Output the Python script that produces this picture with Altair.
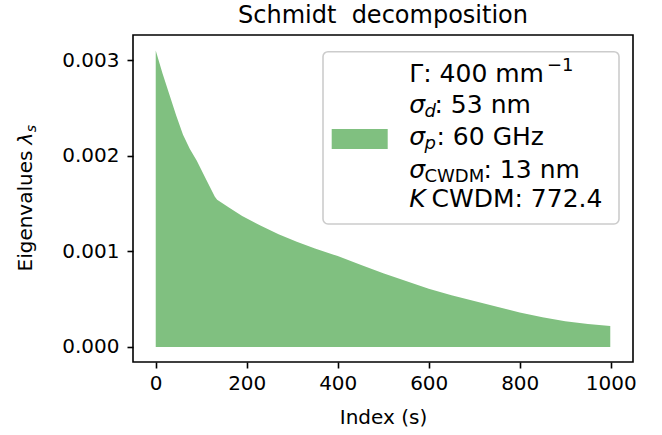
import altair as alt
import pandas as pd

# ---- data ----
index_s = [0, 15, 30, 45, 60, 75, 90, 110, 130, 135, 160, 190, 230, 270, 310, 350,
           400, 450, 500, 550, 600, 650, 700, 750, 800, 850, 900, 950, 999]
eigen = [0.00310, 0.00286, 0.00264, 0.00242, 0.00222, 0.00207, 0.00195, 0.00176,
         0.00157, 0.00154, 0.00146, 0.00137, 0.00127, 0.00118, 0.00110, 0.00103,
         0.00095, 0.00086, 0.00077, 0.00069, 0.00061, 0.00054, 0.00048, 0.00042,
         0.00036, 0.00031, 0.00027, 0.00024, 0.00022]
x_ticks = [0, 200, 400, 600, 800, 1000]
y_ticks = [0.0, 0.001, 0.002, 0.003]

title_text = "Schmidt\u00a0 decomposition"
x_title = "Index (s)"
# y title pieces: (text, style)
y_title_pieces = [("Eigenvalues ", "rm"), ("λ", "it"), ("s", "subit")]

# legend text pieces: (text, style)
legend_lines = [
    [("Γ: 400 mm", "rm"), ("−1", "sup")],
    [("σ", "it"), ("d", "subit"), (": 53 nm", "rm")],
    [("σ", "it"), ("p", "subit"), (": 60 GHz", "rm")],
    [("σ", "it"), ("CWDM", "subrm"), (": 13 nm", "rm")],
    [("K", "it"), ("CWDM: 772.4", "rm")],
]

GREEN = "#80c080"
FONT = "DejaVu Sans"
W, H = 500, 327

df = pd.DataFrame({"s": index_s, "lam": eigen})
one = pd.DataFrame({"a": [0]})

area = alt.Chart(df).mark_area(color=GREEN, opacity=1).encode(
    x=alt.X("s:Q", scale=alt.Scale(domain=[-49.95, 1048.95], nice=False, zero=False),
            axis=alt.Axis(values=x_ticks, title=x_title, format="d",
                          titleX=W / 2, titleY=61, titleBaseline="alphabetic",
                          titleAlign="center")),
    y=alt.Y("lam:Q", scale=alt.Scale(domain=[-0.000157, 0.003262], nice=False, zero=False),
            axis=alt.Axis(values=y_ticks, title=None, format=".3f")),
    y2=alt.datum(0),
)

# legend frame and patch
box = alt.Chart(one).mark_rect(fill="white", fillOpacity=0.8, stroke="#cccccc",
                               strokeWidth=1.6, cornerRadius=5).encode(
    x=alt.value(190), x2=alt.value(486), y=alt.value(16.7), y2=alt.value(189))
patch = alt.Chart(one).mark_rect(color=GREEN).encode(
    x=alt.value(198.7), x2=alt.value(254.7), y=alt.value(94), y2=alt.value(114))

layers = [area, box, patch]

# y-axis title, rotated, built from pieces
ytitle_pos = [(-101, 236.5), (-101, 109.4), (-97, 97.3)]
for (t, style), (px, py) in zip(y_title_pieces, ytitle_pos):
    layers.append(
        alt.Chart(one).mark_text(text=t, align="left", baseline="alphabetic", angle=270,
                                 font=FONT, fontSize=14 if style == "subit" else 20,
                                 color="black",
                                 fontStyle="normal" if style == "rm" else "italic").encode(
            x=alt.value(px), y=alt.value(py))
    )

base_y = [46.7, 78.3, 110.0, 142.7, 171.7]
x0 = 276.3
piece_x = [
    [x0, 414.0],
    [x0, 291.5, 301.5],
    [x0, 291.5, 303.5],
    [x0, 291.5, 350.5],
    [x0, 298.5],
]
for li, line in enumerate(legend_lines):
    for pi, (t, style) in enumerate(line):
        size = 25
        italic = False
        y = base_y[li]
        if style == "it":
            italic = True
        elif style == "subit":
            italic = True
            size = 18
            y = base_y[li] + 4
        elif style == "subrm":
            size = 18
            y = base_y[li] + 4
        elif style == "sup":
            size = 18
            y = base_y[li] - 11
        layers.append(
            alt.Chart(one).mark_text(text=t, align="left", baseline="alphabetic",
                                     font=FONT, fontSize=size, color="black",
                                     fontStyle="italic" if italic else "normal").encode(
                x=alt.value(piece_x[li][pi]), y=alt.value(y))
        )

chart = alt.layer(*layers).properties(
    width=W, height=H,
    background="white",
    title=alt.TitleParams(title_text, fontSize=24, font=FONT, fontWeight="normal",
                          anchor="middle", baseline="alphabetic", offset=10, dy=22,
                          color="black"),
    autosize=alt.AutoSizeParams(type="none"),
    padding={"left": 133, "top": 35, "right": 29, "bottom": 73},
).configure_view(stroke="black", strokeWidth=1.6).configure_axis(
    grid=False, domain=False, tickColor="black", tickWidth=1.6, tickSize=6,
    labelFont=FONT, labelFontSize=20, labelColor="black", labelPadding=8,
    titleFont=FONT, titleFontSize=20, titleColor="black", titleFontWeight="normal",
).configure_axisX(labelPadding=5)

chart.save("out.html", embed_options={"renderer": "svg", "actions": False})
